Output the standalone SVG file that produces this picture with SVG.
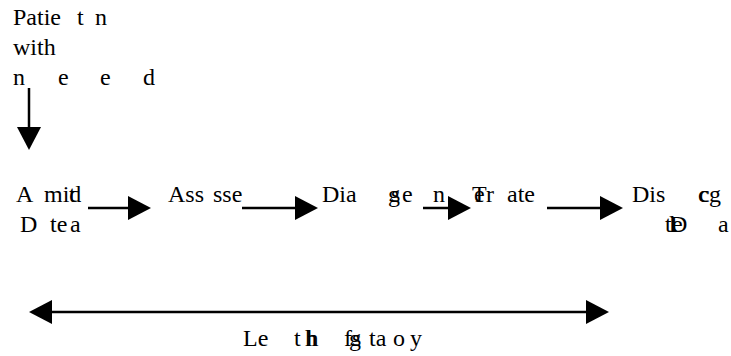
<svg xmlns="http://www.w3.org/2000/svg" width="731" height="356" viewBox="0 0 731 356">
<style>
text { font-family: "Liberation Serif", "Times New Roman", serif; font-size: 24px; fill: #000; }
.ln { stroke: #000; stroke-width: 2.5; fill: none; }
</style>
<defs>
<marker id="ah" markerUnits="userSpaceOnUse" markerWidth="23" markerHeight="24" refX="0" refY="12" orient="auto-start-reverse" overflow="visible">
<path d="M0,0 L23,12 L0,24 Z" fill="#000"/>
</marker>
</defs>
<rect width="731" height="356" fill="#fff"/>
<g id="patient">
<text y="25"><tspan x="13">Patie</tspan><tspan x="77">t</tspan><tspan x="95">n</tspan></text>
<text x="13" y="55">with</text>
<text y="85"><tspan x="13">n</tspan><tspan x="58">e</tspan><tspan x="100">e</tspan><tspan x="143">d</tspan></text>
</g>
<g id="admit">
<text y="202"><tspan x="16">A</tspan><tspan x="44">mid</tspan><tspan x="69">t</tspan></text>
<text y="232"><tspan x="20">D</tspan><tspan x="50">te</tspan><tspan x="70">a</tspan></text>
</g>
<g id="assess">
<text y="202"><tspan x="168">Ass</tspan><tspan x="213">sse</tspan></text>
</g>
<g id="diagnose">
<text y="202"><tspan x="322">Dia</tspan><tspan x="388">g</tspan><tspan x="391">s</tspan><tspan x="402">e</tspan><tspan x="433">n</tspan></text>
</g>
<g id="treat">
<text y="202"><tspan x="472">T</tspan><tspan x="474">e</tspan><tspan x="486">r</tspan><tspan x="507">ate</tspan></text>
</g>
<g id="discharge">
<text y="202"><tspan x="632">Dis</tspan><tspan x="698">c</tspan><tspan x="699">c</tspan><tspan x="709">g</tspan></text>
<text y="232"><tspan x="665">t</tspan><tspan x="669">l</tspan><tspan x="670">D</tspan><tspan x="672">e</tspan><tspan x="718">a</tspan></text>
</g>
<g id="length">
<text y="346"><tspan x="243">Le</tspan><tspan x="294">t</tspan><tspan x="305">h</tspan><tspan x="306.5">h</tspan><tspan x="344">f</tspan><tspan x="349">g</tspan><tspan x="352">s</tspan><tspan x="369">ta</tspan><tspan x="393">o</tspan><tspan x="410">y</tspan></text>
</g>
<g id="connectors">
<line class="ln" x1="29" y1="88" x2="29" y2="127" marker-end="url(#ah)"/>
<line class="ln" x1="88" y1="208" x2="128" y2="208" marker-end="url(#ah)"/>
<line class="ln" x1="242" y1="208" x2="295" y2="208" marker-end="url(#ah)"/>
<line class="ln" x1="423" y1="208" x2="448" y2="208" marker-end="url(#ah)"/>
<line class="ln" x1="547" y1="208" x2="600" y2="208" marker-end="url(#ah)"/>
<line class="ln" x1="52" y1="312" x2="586" y2="312" marker-start="url(#ah)" marker-end="url(#ah)"/>
</g>
</svg>
